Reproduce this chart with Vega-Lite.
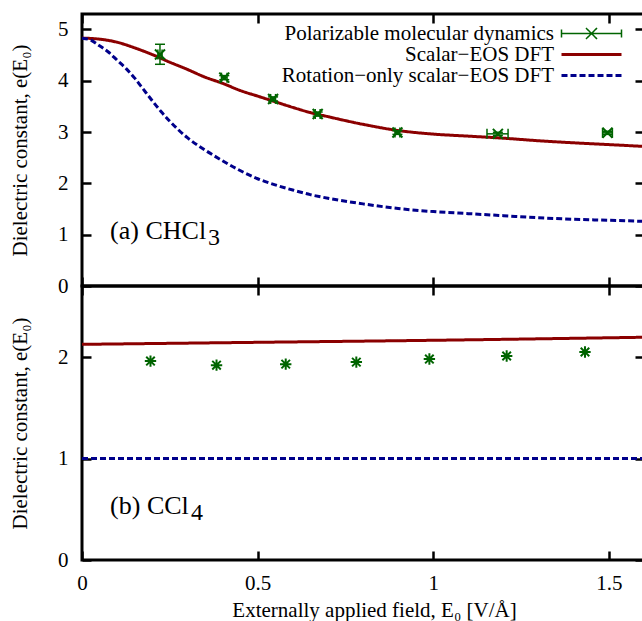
{
  "$schema": "https://vega.github.io/schema/vega-lite/v6.json",
  "background": "white",
  "padding": {"left": 7, "top": 11, "right": 0, "bottom": 0},
  "spacing": 0,
  "bounds": "flush",
  "config": {
    "view": {"stroke": "black", "strokeWidth": 3},
    "font": "Liberation Serif",
    "axis": {
      "grid": false, "domain": false, "tickColor": "black", "tickWidth": 2.5, "tickSize": -9,
      "minExtent": 0, "format": "~g", "labelFlush": false,
      "labelFont": "Liberation Serif", "labelFontSize": 21, "labelColor": "black",
      "titleFont": "Liberation Serif", "titleFontSize": 21, "titleFontWeight": "normal", "titleColor": "black"
    }
  },
  "datasets": {
    "topLines": [
      {"E": 0.0, "eps": 4.83, "series": "Scalar−EOS DFT"},
      {"E": 0.05, "eps": 4.81, "series": "Scalar−EOS DFT"},
      {"E": 0.1, "eps": 4.75, "series": "Scalar−EOS DFT"},
      {"E": 0.15, "eps": 4.64, "series": "Scalar−EOS DFT"},
      {"E": 0.2, "eps": 4.51, "series": "Scalar−EOS DFT"},
      {"E": 0.25, "eps": 4.36, "series": "Scalar−EOS DFT"},
      {"E": 0.3, "eps": 4.22, "series": "Scalar−EOS DFT"},
      {"E": 0.35, "eps": 4.07, "series": "Scalar−EOS DFT"},
      {"E": 0.4, "eps": 3.95, "series": "Scalar−EOS DFT"},
      {"E": 0.45, "eps": 3.81, "series": "Scalar−EOS DFT"},
      {"E": 0.5, "eps": 3.70, "series": "Scalar−EOS DFT"},
      {"E": 0.55, "eps": 3.59, "series": "Scalar−EOS DFT"},
      {"E": 0.6, "eps": 3.48, "series": "Scalar−EOS DFT"},
      {"E": 0.65, "eps": 3.38, "series": "Scalar−EOS DFT"},
      {"E": 0.7, "eps": 3.30, "series": "Scalar−EOS DFT"},
      {"E": 0.8, "eps": 3.15, "series": "Scalar−EOS DFT"},
      {"E": 0.9, "eps": 3.03, "series": "Scalar−EOS DFT"},
      {"E": 1.0, "eps": 2.96, "series": "Scalar−EOS DFT"},
      {"E": 1.1, "eps": 2.92, "series": "Scalar−EOS DFT"},
      {"E": 1.2, "eps": 2.88, "series": "Scalar−EOS DFT"},
      {"E": 1.3, "eps": 2.83, "series": "Scalar−EOS DFT"},
      {"E": 1.4, "eps": 2.79, "series": "Scalar−EOS DFT"},
      {"E": 1.5, "eps": 2.755, "series": "Scalar−EOS DFT"},
      {"E": 1.6, "eps": 2.72, "series": "Scalar−EOS DFT"},
      {"E": 0.0, "eps": 4.83, "series": "Rotation−only scalar−EOS DFT"},
      {"E": 0.025, "eps": 4.79, "series": "Rotation−only scalar−EOS DFT"},
      {"E": 0.05, "eps": 4.68, "series": "Rotation−only scalar−EOS DFT"},
      {"E": 0.075, "eps": 4.56, "series": "Rotation−only scalar−EOS DFT"},
      {"E": 0.1, "eps": 4.40, "series": "Rotation−only scalar−EOS DFT"},
      {"E": 0.125, "eps": 4.24, "series": "Rotation−only scalar−EOS DFT"},
      {"E": 0.15, "eps": 4.05, "series": "Rotation−only scalar−EOS DFT"},
      {"E": 0.175, "eps": 3.83, "series": "Rotation−only scalar−EOS DFT"},
      {"E": 0.2, "eps": 3.61, "series": "Rotation−only scalar−EOS DFT"},
      {"E": 0.225, "eps": 3.40, "series": "Rotation−only scalar−EOS DFT"},
      {"E": 0.25, "eps": 3.21, "series": "Rotation−only scalar−EOS DFT"},
      {"E": 0.275, "eps": 3.04, "series": "Rotation−only scalar−EOS DFT"},
      {"E": 0.3, "eps": 2.89, "series": "Rotation−only scalar−EOS DFT"},
      {"E": 0.35, "eps": 2.65, "series": "Rotation−only scalar−EOS DFT"},
      {"E": 0.4, "eps": 2.44, "series": "Rotation−only scalar−EOS DFT"},
      {"E": 0.45, "eps": 2.25, "series": "Rotation−only scalar−EOS DFT"},
      {"E": 0.5, "eps": 2.09, "series": "Rotation−only scalar−EOS DFT"},
      {"E": 0.55, "eps": 1.97, "series": "Rotation−only scalar−EOS DFT"},
      {"E": 0.6, "eps": 1.87, "series": "Rotation−only scalar−EOS DFT"},
      {"E": 0.65, "eps": 1.78, "series": "Rotation−only scalar−EOS DFT"},
      {"E": 0.7, "eps": 1.71, "series": "Rotation−only scalar−EOS DFT"},
      {"E": 0.8, "eps": 1.60, "series": "Rotation−only scalar−EOS DFT"},
      {"E": 0.9, "eps": 1.51, "series": "Rotation−only scalar−EOS DFT"},
      {"E": 1.0, "eps": 1.45, "series": "Rotation−only scalar−EOS DFT"},
      {"E": 1.1, "eps": 1.41, "series": "Rotation−only scalar−EOS DFT"},
      {"E": 1.2, "eps": 1.37, "series": "Rotation−only scalar−EOS DFT"},
      {"E": 1.3, "eps": 1.33, "series": "Rotation−only scalar−EOS DFT"},
      {"E": 1.4, "eps": 1.30, "series": "Rotation−only scalar−EOS DFT"},
      {"E": 1.5, "eps": 1.28, "series": "Rotation−only scalar−EOS DFT"},
      {"E": 1.6, "eps": 1.26, "series": "Rotation−only scalar−EOS DFT"}
    ],
    "topMD": [
      {"E": 0.222, "eps": 4.51, "lo": 4.32, "hi": 4.71, "Elo": 0.216, "Ehi": 0.228},
      {"E": 0.405, "eps": 4.06, "lo": 4.02, "hi": 4.10, "Elo": 0.397, "Ehi": 0.413},
      {"E": 0.544, "eps": 3.645, "lo": 3.605, "hi": 3.685, "Elo": 0.537, "Ehi": 0.551},
      {"E": 0.671, "eps": 3.35, "lo": 3.31, "hi": 3.39, "Elo": 0.664, "Ehi": 0.678},
      {"E": 0.898, "eps": 2.99, "lo": 2.955, "hi": 3.025, "Elo": 0.891, "Ehi": 0.905},
      {"E": 1.184, "eps": 2.965, "lo": 2.935, "hi": 2.995, "Elo": 1.153, "Ehi": 1.213},
      {"E": 1.496, "eps": 2.985, "lo": 2.955, "hi": 3.015, "Elo": 1.482, "Ehi": 1.51}
    ],
    "bottomLines": [
      {"E": 0.0, "eps": 2.125, "series": "Scalar−EOS DFT"},
      {"E": 0.5, "eps": 2.145, "series": "Scalar−EOS DFT"},
      {"E": 1.0, "eps": 2.165, "series": "Scalar−EOS DFT"},
      {"E": 1.6, "eps": 2.195, "series": "Scalar−EOS DFT"},
      {"E": 0.0, "eps": 1.0, "series": "Rotation−only scalar−EOS DFT"},
      {"E": 1.6, "eps": 1.0, "series": "Rotation−only scalar−EOS DFT"}
    ],
    "bottomMD": [
      {"E": 0.195, "eps": 1.96},
      {"E": 0.383, "eps": 1.92},
      {"E": 0.58, "eps": 1.93},
      {"E": 0.781, "eps": 1.95},
      {"E": 0.989, "eps": 1.98},
      {"E": 1.209, "eps": 2.01},
      {"E": 1.432, "eps": 2.05}
    ]
  },
  "resolve": {"scale": {"color": "independent", "strokeDash": "independent"}, "legend": {"color": "independent", "strokeDash": "independent"}},
  "vconcat": [
    {
      "width": 562,
      "height": 272,
      "layer": [
        {
          "data": {"name": "topLines"},
          "mark": {"type": "line", "strokeWidth": 3, "interpolate": "monotone", "clip": true},
          "encoding": {
            "x": {"field": "E", "type": "quantitative", "scale": {"domain": [0, 1.6], "nice": false},
              "axis": {"orient": "bottom", "values": [0, 0.5, 1, 1.5], "labels": false, "title": null, "maxExtent": 0}},
            "y": {"field": "eps", "type": "quantitative", "scale": {"domain": [0, 5.3], "nice": false},
              "axis": {"orient": "left", "values": [0, 1, 2, 3, 4, 5], "labelPadding": 23,
                "title": "Dielectric constant, e(E₀)", "titleX": -62, "titleY": 136, "titleAngle": -90,
                "titleBaseline": "middle", "titleAlign": "center"}},
            "color": {"field": "series", "type": "nominal",
              "scale": {"domain": ["Polarizable molecular dynamics", "Scalar−EOS DFT", "Rotation−only scalar−EOS DFT"],
                "range": ["#006400", "#8b0000", "#00008b"]},
              "legend": {
                "orient": "none", "legendX": 499, "legendY": 9, "title": null, "padding": 0,
                "labelFont": "Liberation Serif", "labelFontSize": 21, "labelColor": "black", "labelLimit": 500,
                "labelAlign": "right", "labelOffset": -48, "symbolSize": 100, "rowPadding": -1,
                "encode": {
                  "symbols": {"update": {
                    "shape": {"signal": "datum.index === 0 ? 'M-6,0L6,0M-6,-0.8L-6,0.8M6,-0.8L6,0.8M-1.1,-1.1L1.1,1.1M-1.1,1.1L1.1,-1.1' : 'M-6,0L6,0'"},
                    "stroke": {"signal": "datum.index === 0 ? '#006400' : datum.index === 1 ? '#8b0000' : '#00008b'"},
                    "strokeWidth": {"signal": "datum.index === 0 ? 1.5 : 3"},
                    "strokeDash": {"signal": "datum.index === 2 ? [6, 3] : [1, 0]"},
                    "fill": {"value": "transparent"},
                    "opacity": {"value": 1}
                  }}
                }
              }},
            "strokeDash": {"field": "series", "type": "nominal",
              "scale": {"domain": ["Scalar−EOS DFT", "Rotation−only scalar−EOS DFT"], "range": [[1, 0], [6, 3]]},
              "legend": null}
          }
        },
        {
          "data": {"name": "topMD"},
          "mark": {"type": "rule", "color": "#006400", "strokeWidth": 1.5},
          "encoding": {
            "x": {"field": "E", "type": "quantitative",
              "axis": {"orient": "top", "values": [0, 0.5, 1, 1.5], "labels": false, "title": null, "maxExtent": 0}},
            "y": {"field": "lo", "type": "quantitative",
              "axis": {"orient": "right", "values": [0, 1, 2, 3, 4, 5], "labels": false, "title": null, "maxExtent": 0}},
            "y2": {"field": "hi"}
          }
        },
        {
          "data": {"name": "topMD"},
          "mark": {"type": "rule", "color": "#006400", "strokeWidth": 1.5},
          "encoding": {
            "x": {"field": "Elo", "type": "quantitative", "axis": null},
            "x2": {"field": "Ehi"},
            "y": {"field": "eps", "type": "quantitative", "axis": null}
          }
        },
        {
          "data": {"name": "topMD"},
          "mark": {"type": "point", "shape": "M-1,0L1,0", "size": 100, "filled": false, "color": "#006400", "strokeWidth": 1.5, "opacity": 1},
          "encoding": {
            "x": {"field": "E", "type": "quantitative", "axis": null},
            "y": {"field": "lo", "type": "quantitative", "axis": null}
          }
        },
        {
          "data": {"name": "topMD"},
          "mark": {"type": "point", "shape": "M-1,0L1,0", "size": 100, "filled": false, "color": "#006400", "strokeWidth": 1.5, "opacity": 1},
          "encoding": {
            "x": {"field": "E", "type": "quantitative", "axis": null},
            "y": {"field": "hi", "type": "quantitative", "axis": null}
          }
        },
        {
          "data": {"name": "topMD"},
          "mark": {"type": "point", "shape": "M0,-1L0,1", "size": 100, "filled": false, "color": "#006400", "strokeWidth": 1.5, "opacity": 1},
          "encoding": {
            "x": {"field": "Elo", "type": "quantitative", "axis": null},
            "y": {"field": "eps", "type": "quantitative", "axis": null}
          }
        },
        {
          "data": {"name": "topMD"},
          "mark": {"type": "point", "shape": "M0,-1L0,1", "size": 100, "filled": false, "color": "#006400", "strokeWidth": 1.5, "opacity": 1},
          "encoding": {
            "x": {"field": "Ehi", "type": "quantitative", "axis": null},
            "y": {"field": "eps", "type": "quantitative", "axis": null}
          }
        },
        {
          "data": {"name": "topMD"},
          "mark": {"type": "point", "shape": "M-1,-1L1,1M-1,1L1,-1", "size": 100, "filled": false, "color": "#006400", "strokeWidth": 2, "opacity": 1},
          "encoding": {
            "x": {"field": "E", "type": "quantitative", "axis": null},
            "y": {"field": "eps", "type": "quantitative", "axis": null}
          }
        },
        {
          "data": {"values": [{"label": "(a) CHCl", "sub": "3"}]},
          "mark": {"type": "text", "font": "Liberation Serif", "fontSize": 26, "align": "left", "baseline": "alphabetic", "color": "black"},
          "encoding": {
            "x": {"datum": 0.08, "type": "quantitative", "axis": null},
            "y": {"datum": 0.91, "type": "quantitative", "axis": null},
            "text": {"field": "label"}
          }
        },
        {
          "data": {"values": [{"label": "(a) CHCl", "sub": "3"}]},
          "mark": {"type": "text", "font": "Liberation Serif", "fontSize": 24, "align": "left", "baseline": "alphabetic", "color": "black", "dx": 98, "dy": 6},
          "encoding": {
            "x": {"datum": 0.08, "type": "quantitative", "axis": null},
            "y": {"datum": 0.91, "type": "quantitative", "axis": null},
            "text": {"field": "sub"}
          }
        }
      ],
      "resolve": {"axis": {"x": "independent", "y": "independent"}}
    },
    {
      "width": 562,
      "height": 274,
      "layer": [
        {
          "data": {"name": "bottomLines"},
          "mark": {"type": "line", "strokeWidth": 3, "interpolate": "monotone", "clip": true},
          "encoding": {
            "x": {"field": "E", "type": "quantitative", "scale": {"domain": [0, 1.6], "nice": false},
              "axis": {"orient": "bottom", "values": [0, 0.5, 1, 1.5], "labelPadding": 21,
                "title": "Externally applied field, E₀ [V/Å]", "titleX": 292, "titleY": 56,
                "titleBaseline": "alphabetic", "titleAlign": "center"}},
            "y": {"field": "eps", "type": "quantitative", "scale": {"domain": [0, 2.7], "nice": false},
              "axis": {"orient": "left", "values": [0, 1, 2], "labelPadding": 23,
                "title": "Dielectric constant, e(E₀)", "titleX": -62, "titleY": 137, "titleAngle": -90,
                "titleBaseline": "middle", "titleAlign": "center"}},
            "color": {"field": "series", "type": "nominal",
              "scale": {"domain": ["Polarizable molecular dynamics", "Scalar−EOS DFT", "Rotation−only scalar−EOS DFT"],
                "range": ["#006400", "#8b0000", "#00008b"]},
              "legend": null},
            "strokeDash": {"field": "series", "type": "nominal",
              "scale": {"domain": ["Scalar−EOS DFT", "Rotation−only scalar−EOS DFT"], "range": [[1, 0], [6, 3]]},
              "legend": null}
          }
        },
        {
          "data": {"name": "bottomMD"},
          "mark": {"type": "point", "shape": "M-0.9,-0.9L0.9,0.9M-0.9,0.9L0.9,-0.9M0,-1.2L0,1.2M-1.2,0L1.2,0", "size": 90, "filled": false, "color": "#006400", "strokeWidth": 2, "opacity": 1},
          "encoding": {
            "x": {"field": "E", "type": "quantitative",
              "axis": {"orient": "top", "values": [0, 0.5, 1, 1.5], "labels": false, "title": null, "maxExtent": 0}},
            "y": {"field": "eps", "type": "quantitative",
              "axis": {"orient": "right", "values": [0, 1, 2], "labels": false, "title": null, "maxExtent": 0}}
          }
        },
        {
          "data": {"values": [{"label": "(b) CCl", "sub": "4"}]},
          "mark": {"type": "text", "font": "Liberation Serif", "fontSize": 26, "align": "left", "baseline": "alphabetic", "color": "black"},
          "encoding": {
            "x": {"datum": 0.08, "type": "quantitative", "axis": null},
            "y": {"datum": 0.455, "type": "quantitative", "axis": null},
            "text": {"field": "label"}
          }
        },
        {
          "data": {"values": [{"label": "(b) CCl", "sub": "4"}]},
          "mark": {"type": "text", "font": "Liberation Serif", "fontSize": 24, "align": "left", "baseline": "alphabetic", "color": "black", "dx": 81, "dy": 6},
          "encoding": {
            "x": {"datum": 0.08, "type": "quantitative", "axis": null},
            "y": {"datum": 0.455, "type": "quantitative", "axis": null},
            "text": {"field": "sub"}
          }
        }
      ],
      "resolve": {"axis": {"x": "independent", "y": "independent"}}
    }
  ]
}
